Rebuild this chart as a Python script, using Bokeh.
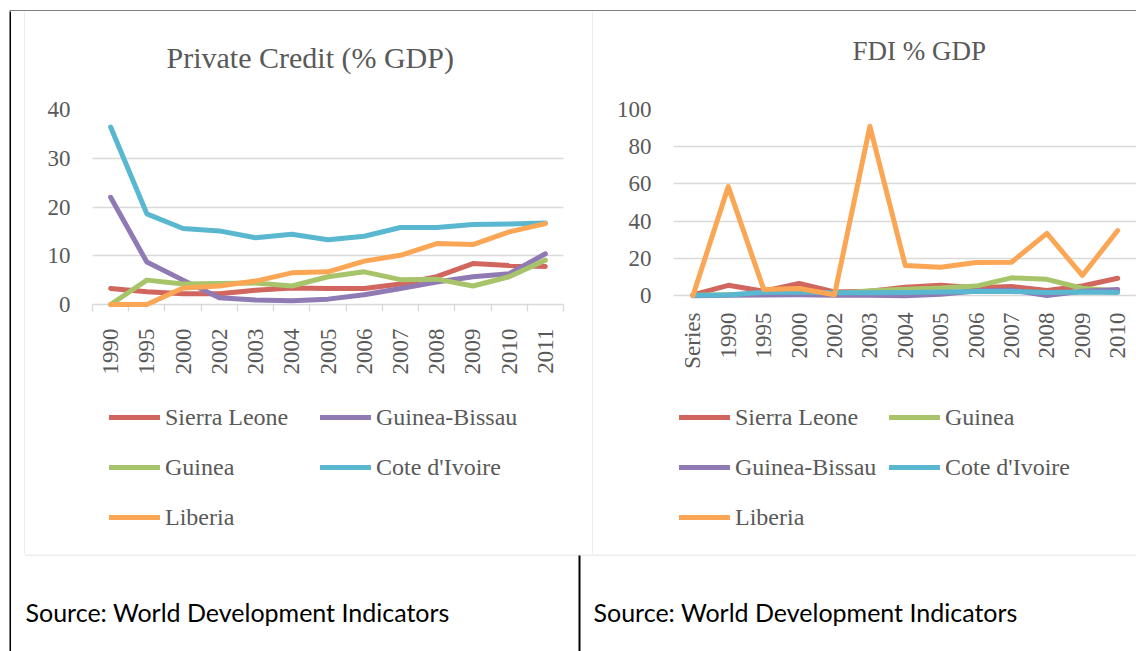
import math
from bokeh.plotting import figure
from bokeh.layouts import row, column
from bokeh.models import Range1d, FixedTicker, Legend, LegendItem, Label, Spacer
from bokeh.embed import file_html
from bokeh.resources import INLINE

# ---------------- data ----------------
credit_years = ["1990", "1995", "2000", "2002", "2003", "2004", "2005",
                "2006", "2007", "2008", "2009", "2010", "2011"]
credit_sierra_leone = [3.3, 2.6, 2.2, 2.2, 2.9, 3.4, 3.3, 3.3, 4.2, 5.7, 8.4, 8.0, 7.8]
credit_guinea_bissau = [22.0, 8.7, 5.0, 1.4, 0.9, 0.75, 1.1, 2.0, 3.3, 4.6, 5.7, 6.3, 10.4]
credit_guinea = [0.0, 5.0, 4.2, 4.3, 4.4, 3.8, 5.7, 6.7, 5.1, 5.2, 3.8, 5.7, 9.1]
credit_cote_divoire = [36.4, 18.6, 15.6, 15.1, 13.7, 14.4, 13.3, 14.0, 15.8, 15.8, 16.4, 16.5, 16.7]
credit_liberia = [0.0, 0.0, 3.4, 3.8, 4.8, 6.5, 6.7, 8.9, 10.1, 12.5, 12.3, 14.9, 16.6]
credit_yticks = [0, 10, 20, 30, 40]

fdi_years = ["Series", "1990", "1995", "2000", "2002", "2003", "2004", "2005",
             "2006", "2007", "2008", "2009", "2010"]
fdi_sierra_leone = [0.5, 5.6, 2.4, 6.6, 2.0, 2.4, 4.6, 5.6, 4.3, 5.0, 2.8, 5.2, 9.4]
fdi_guinea = [0.3, 0.6, 1.2, 1.6, 1.1, 2.7, 3.5, 4.1, 5.2, 9.6, 8.8, 4.0, 2.6]
fdi_guinea_bissau = [0.0, 0.2, 0.4, 0.5, 0.3, 0.2, 0.0, 0.8, 2.6, 3.0, 0.1, 2.4, 3.3]
fdi_cote_divoire = [0.2, 0.4, 1.9, 2.0, 1.6, 1.6, 1.8, 2.0, 2.3, 2.3, 1.7, 2.0, 1.8]
fdi_liberia = [0.0, 58.6, 3.4, 3.9, 0.5, 91.0, 16.2, 15.3, 17.9, 18.0, 33.5, 10.9, 35.0]
fdi_yticks = [0, 20, 40, 60, 80, 100]

credit_title = "Private Credit (% GDP)"
fdi_title = "FDI % GDP"
source_text = "Source: World Development Indicators"

# ---------------- styles ----------------
SERIF = "Liberation Serif"
TXT = "#595959"
GRID = "#d9d9d9"
C_SL = "#D0665E"
C_GB = "#907AB4"
C_GN = "#A8C46A"
C_CI = "#5AB7D0"
C_LB = "#FAA654"
LW = 5
NAN = float("nan")


def plain(w, h, xr=None, yr=None):
    f = figure(width=w, height=h,
               x_range=Range1d(0, xr if xr is not None else w),
               y_range=Range1d(0, yr if yr is not None else h),
               title=None, toolbar_location=None, output_backend="svg",
               min_border=0, x_axis_location=None, y_axis_location=None,
               outline_line_color=None)
    f.grid.visible = False
    return f


def bar(w, h, color):
    f = plain(w, h)
    f.border_fill_color = color
    f.background_fill_color = color
    return f


def style_axes(p, yticks, cats, minor, standoff_x):
    n = len(cats)
    p.xaxis.ticker = FixedTicker(ticks=list(range(n)),
                                 minor_ticks=([i - 0.5 for i in range(n + 1)] if minor else []))
    p.xaxis.major_label_overrides = {i: c for i, c in enumerate(cats)}
    p.xaxis.major_label_orientation = math.pi / 2
    p.xaxis.major_tick_line_color = None
    p.xaxis.major_tick_out = 0
    p.xaxis.major_tick_in = 0
    p.xaxis.major_label_standoff = standoff_x
    p.xaxis.major_label_text_font = SERIF
    p.xaxis.major_label_text_font_size = "23px"
    p.xaxis.major_label_text_color = TXT
    if minor:
        p.xaxis.axis_line_color = GRID
        p.xaxis.axis_line_width = 1.3
        p.xaxis.minor_tick_line_color = GRID
        p.xaxis.minor_tick_line_width = 1.3
        p.xaxis.minor_tick_out = 7
        p.xaxis.minor_tick_in = 0
    else:
        p.xaxis.axis_line_color = None
        p.xaxis.minor_tick_line_color = None
    p.yaxis.ticker = FixedTicker(ticks=yticks)
    p.yaxis.axis_line_color = None
    p.yaxis.major_tick_line_color = None
    p.yaxis.minor_tick_line_color = None
    p.yaxis.major_tick_out = 0
    p.yaxis.major_tick_in = 0
    p.yaxis.major_label_standoff = 22
    p.yaxis.major_label_text_font = SERIF
    p.yaxis.major_label_text_font_size = "23px"
    p.yaxis.major_label_text_color = TXT
    p.xgrid.visible = False
    p.ygrid.grid_line_color = GRID
    p.ygrid.grid_line_width = 1.3


def add_line(p, xs, ys, color):
    return p.line(xs, ys, line_color=color, line_width=LW, line_cap="round",
                  line_join="round", level="overlay")


def header(w, h, frame_w, text, size, x, y):
    # column alignment gives this figure the chart's frame (frame_w px wide)
    f = plain(w, h, xr=frame_w)
    f.add_layout(Label(x=x, y=y, text=text, text_align="left",
                       text_baseline="alphabetic", text_font=SERIF,
                       text_font_size=size, text_color=TXT))
    return f


def legend_panel(w, h, columns):
    """columns: list of (x, y, [(label, colour), ...]) in px from frame bottom-left"""
    f = plain(w, h)
    for x, y, entries in columns:
        items = []
        for lab, col in entries:
            r = f.line([NAN], [NAN], line_color=col, line_width=LW, line_cap="round")
            items.append(LegendItem(label=lab, renderers=[r]))
        f.add_layout(Legend(items=items, location=(x, y), orientation="vertical",
                            glyph_width=51, glyph_height=28, label_height=28,
                            label_standoff=5, spacing=22, padding=0, margin=0,
                            border_line_color=None, background_fill_alpha=0,
                            label_text_font=SERIF, label_text_font_size="24px",
                            label_text_color=TXT))
    return f


HD_H = 84    # header (title) height: ref y 11 .. 95
CH_H = 290   # chart figure height:   ref y 95 .. 385
LG_H = 169   # legend figure height:  ref y 385 .. 554

# ---------------- left chart: private credit ----------------
n1 = len(credit_years)
p1 = figure(width=567, height=CH_H, x_range=Range1d(-0.5, n1 - 0.5),
            y_range=Range1d(credit_yticks[0], credit_yticks[-1]),
            title=None, toolbar_location=None, output_backend="svg",
            min_border_left=67, min_border_right=29, min_border_top=14,
            min_border_bottom=81, outline_line_color=None)
style_axes(p1, credit_yticks, credit_years, True, 17)
xs1 = list(range(n1))
add_line(p1, xs1, credit_sierra_leone, C_SL)
add_line(p1, xs1, credit_guinea_bissau, C_GB)
add_line(p1, xs1, credit_guinea, C_GN)
add_line(p1, xs1, credit_cote_divoire, C_CI)
add_line(p1, xs1, credit_liberia, C_LB)
hd1 = header(567, HD_H, 471, credit_title, "30px", 74, 38)
leg1 = legend_panel(567, LG_H, [
    (17, 23, [("Sierra Leone", C_SL), ("Guinea", C_GN), ("Liberia", C_LB)]),
    (228, 73, [("Guinea-Bissau", C_GB), ("Cote d'Ivoire", C_CI)]),
])

# ---------------- right chart: FDI ----------------
n2 = len(fdi_years)
p2 = figure(width=543, height=CH_H, x_range=Range1d(-0.548, n2 - 0.469),
            y_range=Range1d(fdi_yticks[0] - 4.7, fdi_yticks[-1]),
            title=None, toolbar_location=None, output_backend="svg",
            min_border_left=80, min_border_right=0, min_border_top=14,
            min_border_bottom=81, outline_line_color=None)
style_axes(p2, fdi_yticks, fdi_years, False, 8)
xs2 = list(range(n2))
add_line(p2, xs2, fdi_sierra_leone, C_SL)
add_line(p2, xs2, fdi_guinea, C_GN)
add_line(p2, xs2, fdi_guinea_bissau, C_GB)
add_line(p2, xs2, fdi_cote_divoire, C_CI)
add_line(p2, xs2, fdi_liberia, C_LB)
hd2 = header(543, HD_H, 463, fdi_title, "27px", 179, 45)
leg2 = legend_panel(543, LG_H, [
    (6, 23, [("Sierra Leone", C_SL), ("Guinea-Bissau", C_GB), ("Liberia", C_LB)]),
    (216, 73, [("Guinea", C_GN), ("Cote d'Ivoire", C_CI)]),
])

# ---------------- table frame + source cells ----------------
topbar = plain(1136, 11)
topbar.quad(left=[9], right=[1136], bottom=[0], top=[2], fill_color="black", line_color=None)

BOT_W, BOT_H = 1112, 97
bottom = plain(BOT_W, BOT_H)
bottom.quad(left=[0], right=[BOT_W], bottom=[BOT_H - 1], top=[BOT_H],
            fill_color=GRID, line_color=None)
bottom.quad(left=[554], right=[556], bottom=[0], top=[BOT_H - 1],
            fill_color="black", line_color=None)
for sx in (1, 569):
    bottom.add_layout(Label(x=sx, y=40, text=source_text, text_baseline="middle",
                            text_align="left", text_font="Lato", text_font_size="25px",
                            text_color="black"))

left_strip = row(Spacer(width=9, height=640), bar(2, 640, "black"),
                 Spacer(width=13, height=640), spacing=0)
charts = row(bar(1, 543, GRID), column(hd1, p1, leg1, spacing=0),
             bar(1, 543, GRID), column(hd2, p2, leg2, spacing=0), spacing=0)
right_part = column(charts, bottom, spacing=0)
layout = column(topbar, row(left_strip, right_part, spacing=0), spacing=0)

open("out.html", "w").write(file_html(layout, INLINE))
